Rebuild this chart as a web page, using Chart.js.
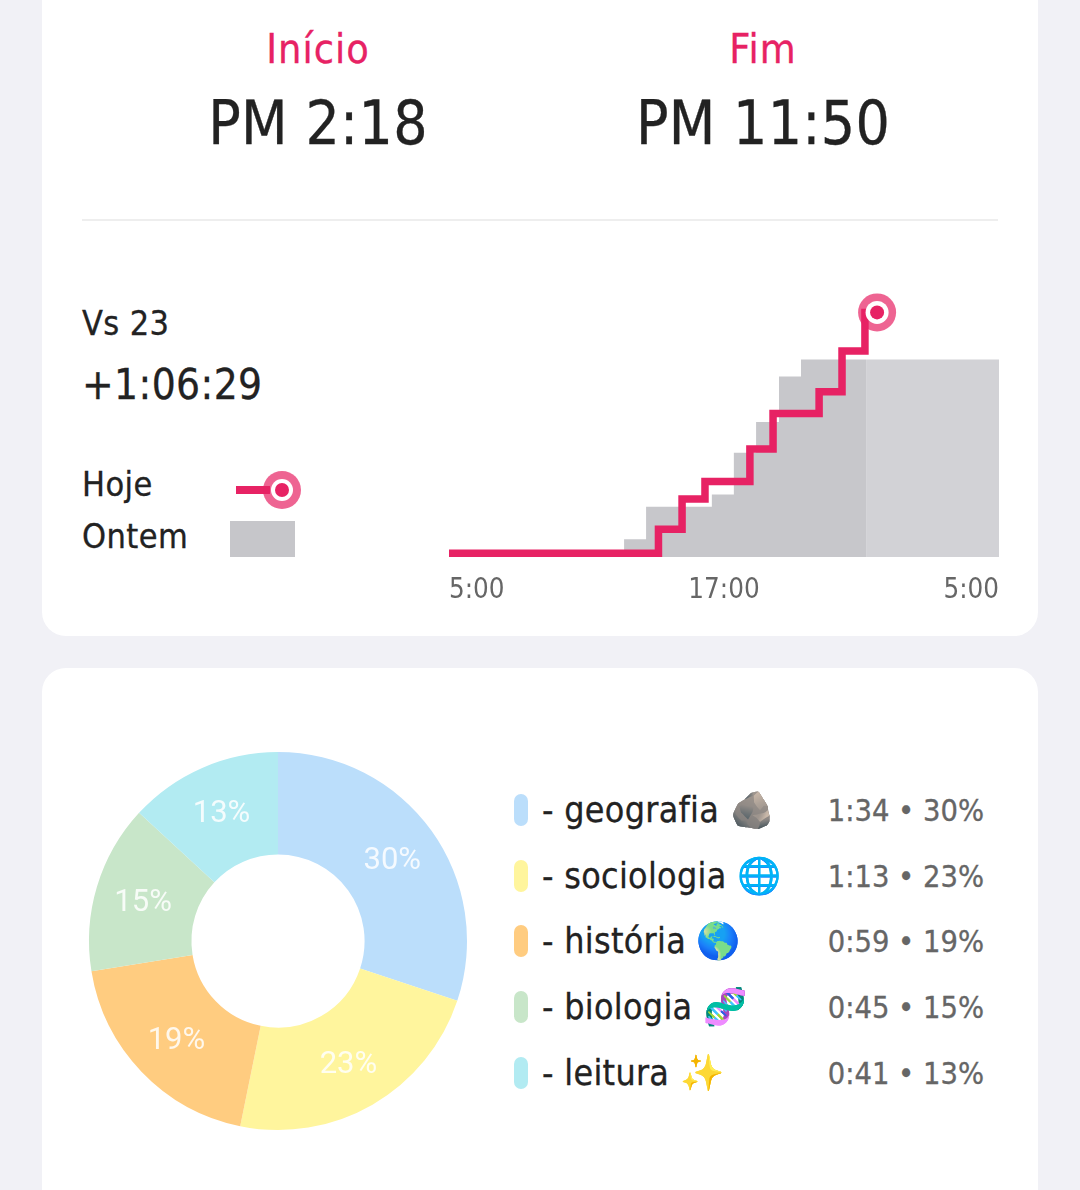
<!DOCTYPE html>
<html lang="pt">
<head>
<meta charset="utf-8">
<title>Estudo</title>
<script src="https://cdn.jsdelivr.net/npm/chart.js@4"></script>
<style>
  html, body { margin: 0; padding: 0; }
  body { width: 1080px; height: 1190px; overflow: hidden; background: #f1f1f6; position: relative;
         font-family: "DejaVu Sans Condensed", "DejaVu Sans", sans-serif; color: #222; }
  .card { position: absolute; left: 42px; width: 996px; background: #fff; border-radius: 24px; }
  .txt { position: absolute; white-space: nowrap; line-height: 60px; height: 60px; -webkit-text-stroke: 0.3px currentColor; }
  .center { transform: translateX(-50%); }
  .pink { color: #e72264; font-size: 41px; letter-spacing: 1px; }
  .big { font-size: 60px; letter-spacing: 0.3px; }
  .side { font-size: 34px; letter-spacing: 0.4px; }
  #lineWrap { position: absolute; left: 449px; top: 280px; width: 550px; height: 330px; }
  #pieWrap { position: absolute; left: 78px; top: 741px; width: 400px; height: 400px; }
  .pill { position: absolute; left: 514px; width: 14px; height: 32px; border-radius: 7px; }
  .name { font-size: 35.5px; left: 542px; letter-spacing: 0.3px; }
  .val { font-size: 30.5px; color: #666; right: 96px; margin-top: 1px; }
</style>
</head>
<body>
<div class="card" style="top:-30px;height:666px"></div>
<div class="card" style="top:668px;height:600px"></div>

<div class="txt center pink" style="left:318px;top:19px">Início</div>
<div class="txt center pink" style="left:763px;top:19px">Fim</div>
<div class="txt center big" style="left:318px;top:93px">PM 2:18</div>
<div class="txt center big" style="left:763px;top:93px">PM 11:50</div>
<div style="position:absolute;left:82px;top:219px;width:916px;height:2px;background:#eeeeee"></div>

<div class="txt side" style="left:82px;top:293px">Vs 23</div>
<div class="txt" style="left:82px;top:355px;font-size:42px;letter-spacing:0.4px">+1:06:29</div>
<div class="txt side" style="left:82px;top:454px">Hoje</div>
<div class="txt side" style="left:82px;top:506px">Ontem</div>

<!-- legenda do grafico de cima -->
<div style="position:absolute;left:236px;top:486px;width:34px;height:8px;background:#e72264"></div>
<div style="position:absolute;left:263px;top:471px;width:38px;height:38px;border-radius:50%;background:rgba(231,34,100,.7)"></div>
<div style="position:absolute;left:271px;top:479px;width:22px;height:22px;border-radius:50%;background:#fff"></div>
<div style="position:absolute;left:275px;top:483px;width:14px;height:14px;border-radius:50%;background:#e72264"></div>
<div style="position:absolute;left:230px;top:521px;width:65px;height:36px;background:#c6c6ca"></div>

<div id="lineWrap"><canvas id="lineChart"></canvas></div>
<div id="pieWrap"><canvas id="pieChart"></canvas></div>
<div id="legend"></div>

<script>
// hora do dia (5 = 5:00, 29 = 5:00 do dia seguinte) e minutos acumulados
const hojeHoras = [5, 14.14, 15.17, 16.17, 18.13, 19.14, 21.15, 22.15, 23.15, 23.68];
const hojeMin = [0, 31, 70, 93, 135, 181, 209, 262, 312, 312];
const ontemHoras = [12.64, 13.6, 16.47, 17.43, 18.4, 19.4, 20.36, 23.2];
const ontemMin = [18, 60, 76, 130, 170, 229, 251, 251];
const restoHoras = [23.2, 29];
const restoMin = [251, 251];

const materias = ["- geografia 🪨", "- sociologia 🌐", "- história 🌎", "- biologia 🧬", "- leitura ✨"];
const minutos = [94, 72, 60, 45, 41];
const tempos = ["1:34", "1:13", "0:59", "0:45", "0:41"];
const percentuais = ["30%", "23%", "19%", "15%", "13%"];
const cores = ["#bbdefb", "#fff59d", "#ffcc80", "#c8e6c9", "#b2ebf2"];

function toPoints(xs, ys) {
  return xs.map((x, i) => ({ x: x, y: ys[i] }));
}

const fim = { x: hojeHoras[hojeHoras.length - 1], y: hojeMin[hojeMin.length - 1] };

new Chart(document.getElementById("lineChart"), {
  type: "line",
  data: {
    datasets: [
      // marcador: tres circulos no mesmo ponto
      {
        data: [fim, fim, fim],
        showLine: false,
        pointRadius: [19, 11.5, 7],
        pointBorderWidth: 0,
        pointBackgroundColor: ["rgba(231,34,100,.7)", "#ffffff", "#e72264"]
      },
      {
        data: toPoints(hojeHoras, hojeMin),
        stepped: true,
        borderColor: "#e72264",
        borderWidth: 7.5,
        borderCapStyle: "butt",
        borderJoinStyle: "miter",
        pointRadius: 0,
        fill: false
      },
      {
        data: toPoints(ontemHoras, ontemMin),
        stepped: true,
        borderWidth: 0,
        pointRadius: 0,
        backgroundColor: "#c7c7cb",
        fill: "start"
      },
      {
        data: toPoints(restoHoras, restoMin),
        stepped: true,
        borderWidth: 0,
        pointRadius: 0,
        backgroundColor: "#d2d2d6",
        fill: "start"
      }
    ]
  },
  options: {
    responsive: true,
    maintainAspectRatio: false,
    animation: false,
    clip: false,
    layout: { autoPadding: false, padding: { top: 10, left: 0, right: 0, bottom: 0 } },
    plugins: { legend: { display: false }, tooltip: { enabled: false } },
    scales: {
      x: {
        type: "linear",
        min: 5,
        max: 29,
        border: { display: false },
        grid: { display: false, tickLength: 17 },
        afterFit: (s) => { s.height = 53; },
        afterBuildTicks: (s) => { s.ticks = [{ value: 5 }, { value: 17 }, { value: 29 }]; },
        ticks: {
          align: "inner",
          maxRotation: 0,
          autoSkip: false,
          padding: 0,
          color: "#666",
          font: { family: "DejaVu Sans Condensed", size: 27.5 },
          callback: (v) => (v % 24) + ":00"
        }
      },
      y: { display: false, min: -5, max: 341 }
    }
  }
});

// percentuais dentro das fatias, um pouco para fora do meio do anel
const sliceLabels = {
  id: "sliceLabels",
  afterDatasetsDraw(chart) {
    const ctx = chart.ctx;
    ctx.save();
    ctx.fillStyle = "rgba(255,255,255,.85)";
    ctx.font = '31px Roboto';
    ctx.textAlign = "center";
    ctx.textBaseline = "middle";
    chart.getDatasetMeta(0).data.forEach((arc, i) => {
      const p = arc.getCenterPoint();
      const x = arc.x + (p.x - arc.x) * 1.022;
      const y = arc.y + (p.y - arc.y) * 1.022 + 2.5;
      ctx.fillText(percentuais[i], x, y);
    });
    ctx.restore();
  }
};

new Chart(document.getElementById("pieChart"), {
  type: "doughnut",
  plugins: [sliceLabels],
  data: {
    labels: materias,
    datasets: [{ data: minutos, backgroundColor: cores, borderWidth: 0 }]
  },
  options: {
    responsive: true,
    maintainAspectRatio: false,
    animation: false,
    cutout: "45.8%",
    radius: 189,
    plugins: { legend: { display: false }, tooltip: { enabled: false } }
  }
});

const legend = document.getElementById("legend");
const linhas = [810, 876, 941, 1007, 1073];
for (let i = 0; i < materias.length; i++) {
  legend.innerHTML +=
    '<div class="pill" style="top:' + (linhas[i] - 16) + 'px;background:' + cores[i] + '"></div>' +
    '<div class="txt name" style="top:' + (linhas[i] - 30) + 'px">' + materias[i] + '</div>' +
    '<div class="txt val" style="top:' + (linhas[i] - 30) + 'px">' + tempos[i] + ' • ' + percentuais[i] + '</div>';
}
</script>
</body>
</html>
